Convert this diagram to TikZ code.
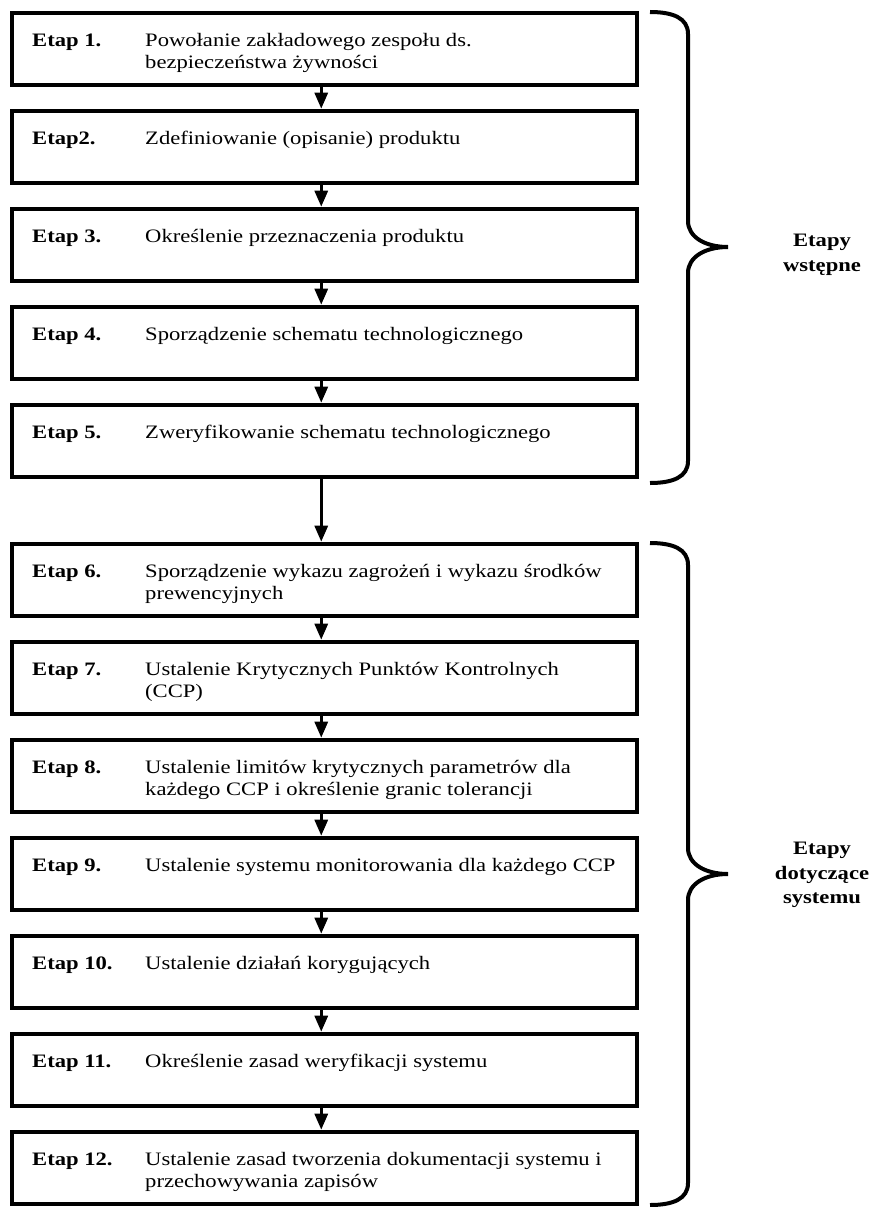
\documentclass[tikz,border=0pt]{standalone}
\usepackage{fontspec}
\setmainfont{Liberation Serif}[FakeStretch=1.19]
\usetikzlibrary{positioning}
\usetikzlibrary{arrows.meta}
\newcommand{\twolines}[2]{\begin{tabular}[t]{@{}l@{}}#1\\#2\end{tabular}}

\begin{document}
\begin{tikzpicture}
[
x=1pt, y=1pt,
stage-a/.style={rectangle,draw,line width=4pt,minimum width=625.5pt,minimum height=72pt,inner sep=0pt},
etap-a/.style={font=\bfseries,inner sep=0pt,anchor=base west},
text-a/.style={inner sep=0pt,anchor=base west},
arrow-a/.style={line width=3pt,-{Triangle[width=13pt,length=16pt]}},
brace-a/.style={line width=4pt},
side-a/.style={font=\fontsize{19}{24.5}\selectfont\bfseries,align=center},
]
\fontsize{19}{22}\selectfont
\useasboundingbox (0,0) rectangle (874,-1207);
\node (s1)  [stage-a] at (324.25,-48.7) {};
\node (s2)  [stage-a, below = 22pt of s1]  {};
\node (s3)  [stage-a, below = 22pt of s2]  {};
\node (s4)  [stage-a, below = 22pt of s3]  {};
\node (s5)  [stage-a, below = 22pt of s4]  {};
\node (s6)  [stage-a, below = 63pt of s5]  {};
\node (s7)  [stage-a, below = 22pt of s6]  {};
\node (s8)  [stage-a, below = 22pt of s7]  {};
\node (s9)  [stage-a, below = 22pt of s8]  {};
\node (s10) [stage-a, below = 22pt of s9]  {};
\node (s11) [stage-a, below = 22pt of s10] {};
\node (s12) [stage-a, below = 22pt of s11] {};
\node (e1)  [etap-a] at ([xshift=22.5pt,yshift=-35.5pt]s1.north west)  {Etap 1.};
\node (t1)  [text-a] at ([xshift=135.5pt,yshift=-35.5pt]s1.north west)  {\twolines{Powołanie zakładowego zespołu ds.}{bezpieczeństwa żywności}};
\node (e2)  [etap-a] at ([xshift=22.5pt,yshift=-35.5pt]s2.north west)  {Etap2.};
\node (t2)  [text-a] at ([xshift=135.5pt,yshift=-35.5pt]s2.north west)  {Zdefiniowanie (opisanie) produktu};
\node (e3)  [etap-a] at ([xshift=22.5pt,yshift=-35.5pt]s3.north west)  {Etap 3.};
\node (t3)  [text-a] at ([xshift=135.5pt,yshift=-35.5pt]s3.north west)  {Określenie przeznaczenia produktu};
\node (e4)  [etap-a] at ([xshift=22.5pt,yshift=-35.5pt]s4.north west)  {Etap 4.};
\node (t4)  [text-a] at ([xshift=135.5pt,yshift=-35.5pt]s4.north west)  {Sporządzenie schematu technologicznego};
\node (e5)  [etap-a] at ([xshift=22.5pt,yshift=-35.5pt]s5.north west)  {Etap 5.};
\node (t5)  [text-a] at ([xshift=135.5pt,yshift=-35.5pt]s5.north west)  {Zweryfikowanie schematu technologicznego};
\node (e6)  [etap-a] at ([xshift=22.5pt,yshift=-35.5pt]s6.north west)  {Etap 6.};
\node (t6)  [text-a] at ([xshift=135.5pt,yshift=-35.5pt]s6.north west)  {\twolines{Sporządzenie wykazu zagrożeń i wykazu środków}{prewencyjnych}};
\node (e7)  [etap-a] at ([xshift=22.5pt,yshift=-35.5pt]s7.north west)  {Etap 7.};
\node (t7)  [text-a] at ([xshift=135.5pt,yshift=-35.5pt]s7.north west)  {\twolines{Ustalenie Krytycznych Punktów Kontrolnych}{(CCP)}};
\node (e8)  [etap-a] at ([xshift=22.5pt,yshift=-35.5pt]s8.north west)  {Etap 8.};
\node (t8)  [text-a] at ([xshift=135.5pt,yshift=-35.5pt]s8.north west)  {\twolines{Ustalenie limitów krytycznych parametrów dla}{każdego CCP i określenie granic tolerancji}};
\node (e9)  [etap-a] at ([xshift=22.5pt,yshift=-35.5pt]s9.north west)  {Etap 9.};
\node (t9)  [text-a] at ([xshift=135.5pt,yshift=-35.5pt]s9.north west)  {Ustalenie systemu monitorowania dla każdego CCP};
\node (e10) [etap-a] at ([xshift=22.5pt,yshift=-35.5pt]s10.north west) {Etap 10.};
\node (t10) [text-a] at ([xshift=135.5pt,yshift=-35.5pt]s10.north west) {Ustalenie działań korygujących};
\node (e11) [etap-a] at ([xshift=22.5pt,yshift=-35.5pt]s11.north west) {Etap 11.};
\node (t11) [text-a] at ([xshift=135.5pt,yshift=-35.5pt]s11.north west) {Określenie zasad weryfikacji systemu};
\node (e12) [etap-a] at ([xshift=22.5pt,yshift=-35.5pt]s12.north west) {Etap 12.};
\node (t12) [text-a] at ([xshift=135.5pt,yshift=-35.5pt]s12.north west) {\twolines{Ustalenie zasad tworzenia dokumentacji systemu i}{przechowywania zapisów}};
\draw [arrow-a] ([xshift=-3pt]s1.south)  -- ([xshift=-3pt]s2.north);
\draw [arrow-a] ([xshift=-3pt]s2.south)  -- ([xshift=-3pt]s3.north);
\draw [arrow-a] ([xshift=-3pt]s3.south)  -- ([xshift=-3pt]s4.north);
\draw [arrow-a] ([xshift=-3pt]s4.south)  -- ([xshift=-3pt]s5.north);
\draw [arrow-a] ([xshift=-3pt]s5.south)  -- ([xshift=-3pt]s6.north);
\draw [arrow-a] ([xshift=-3pt]s6.south)  -- ([xshift=-3pt]s7.north);
\draw [arrow-a] ([xshift=-3pt]s7.south)  -- ([xshift=-3pt]s8.north);
\draw [arrow-a] ([xshift=-3pt]s8.south)  -- ([xshift=-3pt]s9.north);
\draw [arrow-a] ([xshift=-3pt]s9.south)  -- ([xshift=-3pt]s10.north);
\draw [arrow-a] ([xshift=-3pt]s10.south) -- ([xshift=-3pt]s11.north);
\draw [arrow-a] ([xshift=-3pt]s11.south) -- ([xshift=-3pt]s12.north);
% klamry
\draw [brace-a] (650,-12) .. controls (673,-12) and (688,-18) .. (688,-34) -- (688,-221)
  .. controls (688,-237) and (705,-247) .. (728,-247) .. controls (705,-247) and (688,-257) .. (688,-273)
  -- (688,-461) .. controls (688,-477) and (673,-483) .. (650,-483);
\draw [brace-a] (650,-543) .. controls (673,-543) and (688,-549) .. (688,-565) -- (688,-848)
  .. controls (688,-864) and (705,-874) .. (728,-874) .. controls (705,-874) and (688,-884) .. (688,-900)
  -- (688,-1183) .. controls (688,-1199) and (673,-1205) .. (650,-1205);
\node (w1) [side-a] at (822,-255) {Etapy\\wstępne};
\node (w2) [side-a] at (822,-875) {Etapy\\dotyczące\\systemu};
\end{tikzpicture}
\end{document}
